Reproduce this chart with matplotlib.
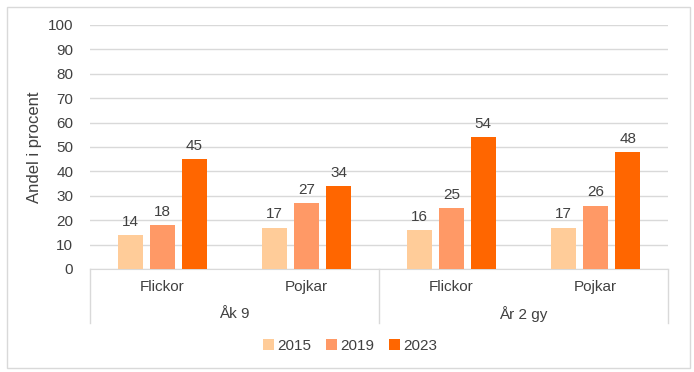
import matplotlib.pyplot as plt
import numpy as np
from matplotlib.patches import Rectangle
from matplotlib.lines import Line2D

plt.rcParams['font.family'] = ['Liberation Sans', 'DejaVu Sans']

groups = ["Åk 9", "År 2 gy"]
subgroups = ["Flickor", "Pojkar", "Flickor", "Pojkar"]
years = ["2015", "2019", "2023"]
v2015 = [14, 17, 16, 17]
v2019 = [18, 27, 25, 26]
v2023 = [45, 34, 54, 48]
colors = ["#FFCC99", "#FF9966", "#FF6600"]

grid_c = "#D9D9D9"
text_c = "#404040"
fs = 11

fig = plt.figure(figsize=(6.94, 3.72), dpi=100)
ax = fig.add_axes([90/694, 1 - 269/372, 578/694, 244/372])

x = np.arange(len(subgroups))
w = 0.173
step = 0.222
for i, (vals, c) in enumerate(zip([v2015, v2019, v2023], colors)):
    xs = x + (i - 1) * step
    ax.bar(xs, vals, width=w, color=c, label=years[i], zorder=3)
    for xi, v in zip(xs, vals):
        ax.text(xi, v + 2.5, f"{v}", ha='center', va='bottom', fontsize=fs, color=text_c)

ax.set_xlim(-0.5, len(subgroups) - 0.5)
ax.set_ylim(0, 100)
ax.set_yticks(range(0, 101, 10))
ax.tick_params(axis='y', length=0, labelsize=fs, labelcolor=text_c, pad=12)
ax.set_xticks([])
ax.grid(axis='y', color=grid_c, linewidth=1, zorder=0)
for s in ['top', 'right', 'left']:
    ax.spines[s].set_visible(False)
ax.spines['bottom'].set_color(grid_c)
ax.set_ylabel("Andel i procent", fontsize=12, color=text_c, labelpad=4)

# multi-level category axis
trans = ax.get_xaxis_transform()
sep_bottom = -(323 - 269) / 244
for xv in [-0.5, 1.5, 3.5]:
    ax.add_line(Line2D([xv, xv], [0, sep_bottom], transform=trans, color=grid_c,
                       linewidth=1, clip_on=False))
for xi, lab in zip(x, subgroups):
    ax.text(xi, -(287 - 269) / 244, lab, transform=trans, ha='center', va='center',
            fontsize=fs, color=text_c)
for gi, g in enumerate(groups):
    ax.text(gi * 2 + 0.5, -(314 - 269) / 244, g, transform=trans, ha='center', va='center',
            fontsize=fs, color=text_c)

fig.legend(loc='center', bbox_to_anchor=(350/694, 1 - 346/372), ncol=3, frameon=False,
           fontsize=fs, handlelength=0.7, handleheight=0.7, handletextpad=0.2,
           columnspacing=1.0, labelcolor=text_c)

fig.patches.append(Rectangle((7/694, 1 - 368/372), 683/694, 361/372, transform=fig.transFigure,
                             fill=False, edgecolor=grid_c, linewidth=1))

fig.savefig("out.png", dpi=100)
